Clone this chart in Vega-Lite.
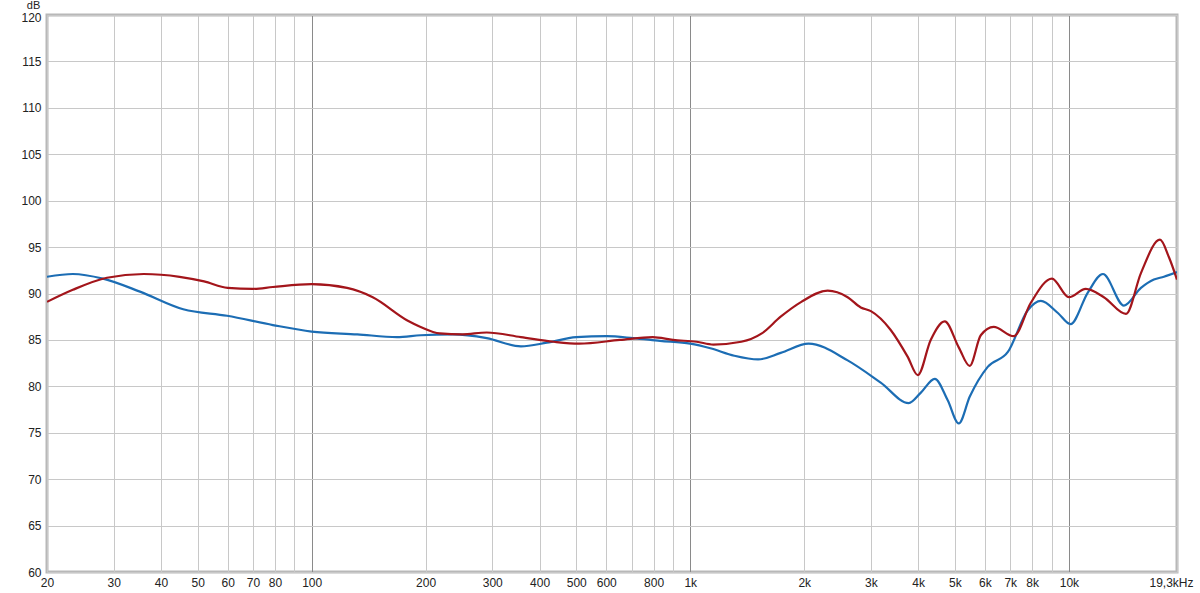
{
  "$schema": "https://vega.github.io/schema/vega-lite/v6.json",
  "width": 1130,
  "height": 557,
  "autosize": "none",
  "padding": {"left": 47, "top": 15, "right": 23, "bottom": 21},
  "background": "#ffffff",
  "config": {
    "view": {"stroke": "#b8b8b8", "strokeWidth": 3},
    "font": "Liberation Sans"
  },
  "datasets": {
    "curves": [
      {"s": "L", "f": 20, "db": 91.8},
      {"s": "L", "f": 23.4, "db": 92.1},
      {"s": "L", "f": 28.1, "db": 91.6},
      {"s": "L", "f": 35.2, "db": 90.2},
      {"s": "L", "f": 45.8, "db": 88.3},
      {"s": "L", "f": 59.8, "db": 87.6},
      {"s": "L", "f": 79, "db": 86.6},
      {"s": "L", "f": 100, "db": 85.9},
      {"s": "L", "f": 132, "db": 85.6},
      {"s": "L", "f": 168, "db": 85.3},
      {"s": "L", "f": 194, "db": 85.5},
      {"s": "L", "f": 236, "db": 85.6},
      {"s": "L", "f": 290, "db": 85.2},
      {"s": "L", "f": 357, "db": 84.3},
      {"s": "L", "f": 418, "db": 84.7},
      {"s": "L", "f": 500, "db": 85.3},
      {"s": "L", "f": 601, "db": 85.4},
      {"s": "L", "f": 706, "db": 85.2},
      {"s": "L", "f": 832, "db": 84.9},
      {"s": "L", "f": 1000, "db": 84.6},
      {"s": "L", "f": 1130, "db": 84.1},
      {"s": "L", "f": 1307, "db": 83.3},
      {"s": "L", "f": 1511, "db": 82.9},
      {"s": "L", "f": 1733, "db": 83.6},
      {"s": "L", "f": 2054, "db": 84.6},
      {"s": "L", "f": 2604, "db": 82.8},
      {"s": "L", "f": 3184, "db": 80.4},
      {"s": "L", "f": 3776, "db": 78.2},
      {"s": "L", "f": 4060, "db": 79.3},
      {"s": "L", "f": 4424, "db": 80.8},
      {"s": "L", "f": 4786, "db": 78.5},
      {"s": "L", "f": 5118, "db": 76.0},
      {"s": "L", "f": 5474, "db": 78.9},
      {"s": "L", "f": 6104, "db": 82.1},
      {"s": "L", "f": 6900, "db": 83.7},
      {"s": "L", "f": 7790, "db": 88.2},
      {"s": "L", "f": 8432, "db": 89.2},
      {"s": "L", "f": 9354, "db": 87.9},
      {"s": "L", "f": 10100, "db": 86.7},
      {"s": "L", "f": 11220, "db": 90.1},
      {"s": "L", "f": 12300, "db": 92.1},
      {"s": "L", "f": 13980, "db": 88.7},
      {"s": "L", "f": 15500, "db": 90.6},
      {"s": "L", "f": 16770, "db": 91.5},
      {"s": "L", "f": 17820, "db": 91.8},
      {"s": "L", "f": 19300, "db": 92.3},
      {"s": "R", "f": 20, "db": 89.1},
      {"s": "R", "f": 23.4, "db": 90.4},
      {"s": "R", "f": 28.8, "db": 91.7},
      {"s": "R", "f": 36, "db": 92.1},
      {"s": "R", "f": 44.8, "db": 91.8},
      {"s": "R", "f": 52, "db": 91.3},
      {"s": "R", "f": 60, "db": 90.6},
      {"s": "R", "f": 70, "db": 90.5},
      {"s": "R", "f": 79, "db": 90.7},
      {"s": "R", "f": 100, "db": 91.0},
      {"s": "R", "f": 124, "db": 90.6},
      {"s": "R", "f": 145, "db": 89.6},
      {"s": "R", "f": 179, "db": 87.1},
      {"s": "R", "f": 194, "db": 86.4},
      {"s": "R", "f": 218, "db": 85.7},
      {"s": "R", "f": 250, "db": 85.6},
      {"s": "R", "f": 290, "db": 85.8},
      {"s": "R", "f": 357, "db": 85.3},
      {"s": "R", "f": 436, "db": 84.8},
      {"s": "R", "f": 509, "db": 84.6},
      {"s": "R", "f": 652, "db": 85.0},
      {"s": "R", "f": 796, "db": 85.3},
      {"s": "R", "f": 900, "db": 85.0},
      {"s": "R", "f": 1040, "db": 84.8},
      {"s": "R", "f": 1151, "db": 84.5},
      {"s": "R", "f": 1364, "db": 84.8},
      {"s": "R", "f": 1545, "db": 85.7},
      {"s": "R", "f": 1733, "db": 87.5},
      {"s": "R", "f": 1965, "db": 89.1},
      {"s": "R", "f": 2306, "db": 90.3},
      {"s": "R", "f": 2604, "db": 89.6},
      {"s": "R", "f": 2820, "db": 88.5},
      {"s": "R", "f": 3000, "db": 88.1},
      {"s": "R", "f": 3380, "db": 86.1},
      {"s": "R", "f": 3750, "db": 83.2},
      {"s": "R", "f": 3990, "db": 81.2},
      {"s": "R", "f": 4316, "db": 85.0},
      {"s": "R", "f": 4700, "db": 87.0},
      {"s": "R", "f": 5118, "db": 84.2},
      {"s": "R", "f": 5470, "db": 82.2},
      {"s": "R", "f": 5852, "db": 85.5},
      {"s": "R", "f": 6330, "db": 86.4},
      {"s": "R", "f": 7150, "db": 85.4},
      {"s": "R", "f": 7934, "db": 89.0},
      {"s": "R", "f": 9020, "db": 91.6},
      {"s": "R", "f": 10000, "db": 89.6},
      {"s": "R", "f": 11080, "db": 90.5},
      {"s": "R", "f": 12370, "db": 89.6},
      {"s": "R", "f": 14150, "db": 87.8},
      {"s": "R", "f": 15500, "db": 92.2},
      {"s": "R", "f": 17400, "db": 95.8},
      {"s": "R", "f": 18380, "db": 93.9},
      {"s": "R", "f": 19300, "db": 91.5}
    ]
  },
  "data": {"name": "curves"},
  "mark": {"type": "line", "interpolate": "monotone", "strokeWidth": 2.2, "clip": true},
  "encoding": {
    "x": {
      "field": "f",
      "type": "quantitative",
      "scale": {"type": "log", "domain": [20, 19300], "nice": false},
      "axis": {
        "title": null,
        "domain": false,
        "ticks": false,
        "tickSize": 0,
        "labelFlush": false,
        "labelPadding": 5,
        "labelFontSize": 12,
        "labelColor": "#222222",
        "labelFont": "Liberation Sans",
        "values": [20, 30, 40, 50, 60, 70, 80, 90, 100, 200, 300, 400, 500, 600, 700, 800, 900, 1000, 2000, 3000, 4000, 5000, 6000, 7000, 8000, 9000, 10000, 19300],
        "labelExpr": "datum.value == 19300 ? '19,3kHz' : (datum.value == 90 || datum.value == 900 || datum.value == 9000 || datum.value == 700) ? '' : (datum.value >= 1000 ? (datum.value / 1000) + 'k' : '' + datum.value)",
        "labelOffset": {"condition": {"test": "datum.value > 15000", "value": -6}, "value": 0},
        "gridColor": {"condition": {"test": "datum.value == 100 || datum.value == 1000 || datum.value == 10000", "value": "#8a8a8a"}, "value": "#c8c8c8"},
        "gridWidth": 1
      }
    },
    "y": {
      "field": "db",
      "type": "quantitative",
      "scale": {"domain": [60, 120], "nice": false, "zero": false},
      "axis": {
        "title": "dB",
        "titleAngle": 0,
        "titleX": -14,
        "titleY": -5,
        "titleAlign": "center",
        "titleBaseline": "bottom",
        "titleFontWeight": "normal",
        "titleFontSize": 11,
        "titleColor": "#222222",
        "titleFont": "Liberation Sans",
        "domain": false,
        "ticks": false,
        "tickSize": 0,
        "labelPadding": 6,
        "labelFontSize": 12,
        "labelColor": "#222222",
        "labelFont": "Liberation Sans",
        "labelOffset": {"condition": {"test": "datum.value == 120", "value": 2}, "value": 0},
        "values": [60, 65, 70, 75, 80, 85, 90, 95, 100, 105, 110, 115, 120],
        "gridColor": "#c8c8c8",
        "gridWidth": 1
      }
    },
    "color": {
      "field": "s",
      "type": "nominal",
      "scale": {"domain": ["L", "R"], "range": ["#1c6db4", "#a3151b"]},
      "legend": null
    }
  }
}
